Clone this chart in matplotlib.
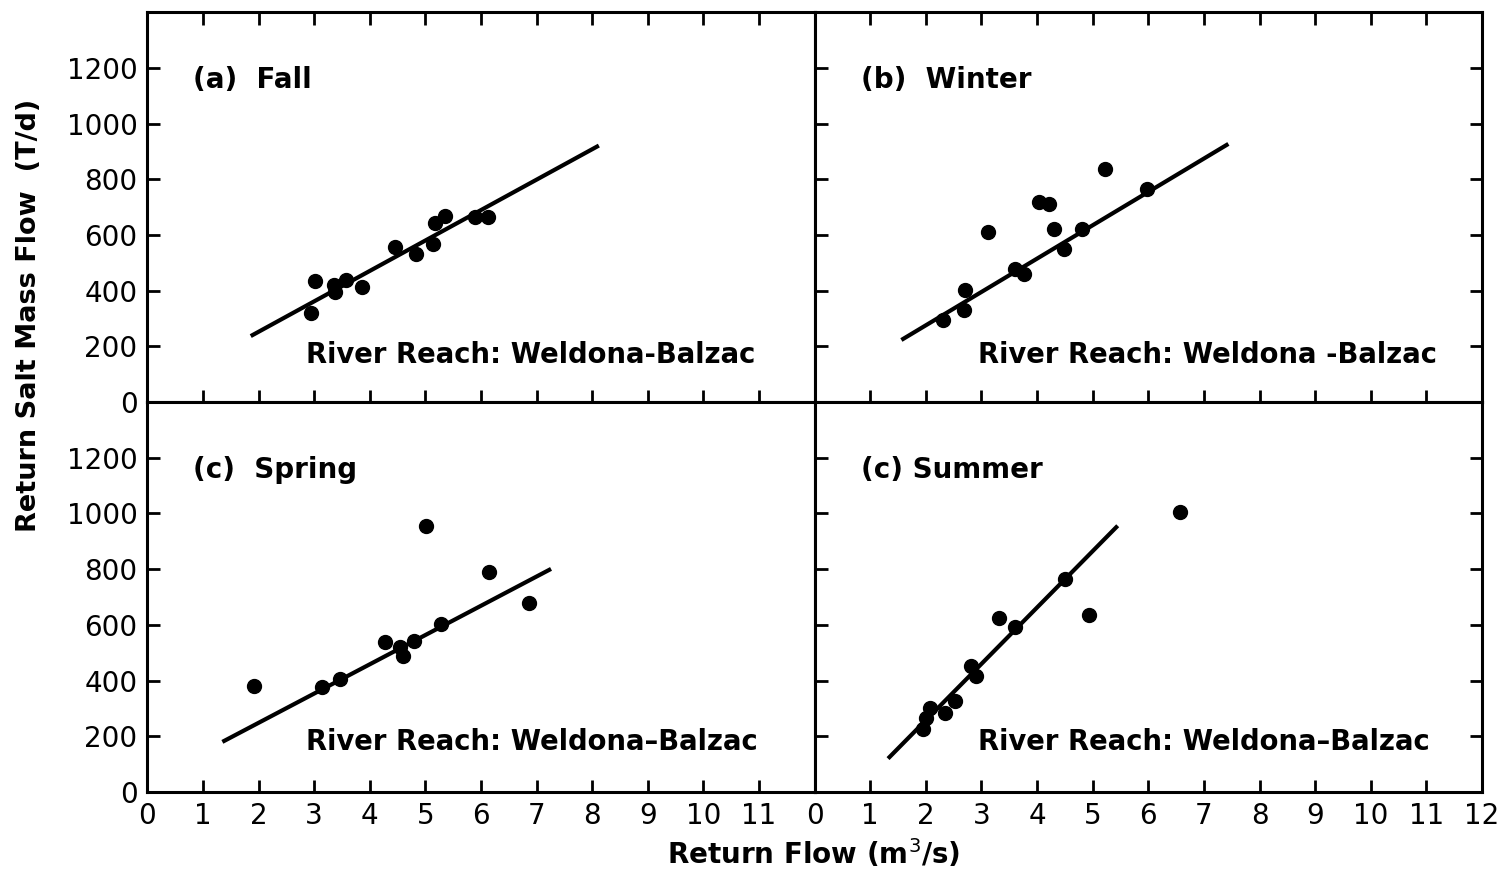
import numpy as np
import matplotlib
matplotlib.use("Agg")
from matplotlib import pyplot as plt

# return flow (m3/s) vs return salt mass flow (T/d)
fallX = [2.95, 3.02, 3.35, 3.38, 3.57, 3.86, 4.45, 4.84, 5.14, 5.17, 5.36, 5.89, 6.13]
fallY = [320, 433, 421, 394, 439, 415, 556, 532, 568, 642, 668, 663, 665]
fallLineX = [1.86, 8.12]
fallLineY = [237, 921]

winterX = [2.31, 2.69, 2.70, 3.11, 3.60, 3.77, 4.03, 4.22, 4.30, 4.49, 4.81, 5.23, 5.98]
winterY = [294, 330, 404, 612, 477, 460, 719, 713, 620, 550, 621, 836, 764]
winterLineX = [1.56, 7.44]
winterLineY = [223, 927]

springX = [1.91, 3.15, 3.47, 4.28, 4.54, 4.60, 4.80, 5.02, 5.29, 6.15, 6.87]
springY = [382, 376, 404, 539, 519, 489, 543, 956, 602, 789, 680]
springLineX = [1.35, 7.26]
springLineY = [180, 801]

summerX = [1.94, 2.00, 2.07, 2.35, 2.52, 2.81, 2.91, 3.32, 3.60, 4.51, 4.93, 6.57]
summerY = [227, 264, 302, 285, 326, 451, 415, 626, 591, 766, 636, 1004]
summerLineX = [1.32, 5.45]
summerLineY = [120, 956]

titles = ["(a)  Fall", "(b)  Winter", "(c)  Spring", "(c) Summer"]
reaches = ["River Reach: Weldona-Balzac", "River Reach: Weldona -Balzac",
           "River Reach: Weldona\u2013Balzac", "River Reach: Weldona\u2013Balzac"]

panels = [(fallX, fallY, fallLineX, fallLineY),
          (winterX, winterY, winterLineX, winterLineY),
          (springX, springY, springLineX, springLineY),
          (summerX, summerY, summerLineX, summerLineY)]

plt.rcParams["font.family"] = "DejaVu Sans"

fig, axs = plt.subplots(2, 2, figsize=(15.03, 8.69), dpi=100)
fig.subplots_adjust(left=0.098, right=0.986, bottom=0.0886, top=0.986,
                    wspace=0, hspace=0)

for i, ax in enumerate(axs.flat):
    x, y, lx, ly = panels[i]
    row, col = divmod(i, 2)
    ax.plot(lx, ly, color="black", lw=3.0, solid_capstyle="butt")
    ax.plot(x, y, "o", color="black", ms=10, mec="black")
    ax.set_xlim(0, 12)
    ax.set_ylim(0, 1400)
    ax.set_xticks(np.arange(0, 13))
    ax.set_yticks(np.arange(0, 1201, 200))
    for s in ax.spines.values():
        s.set_linewidth(2.2)
    ax.tick_params(direction="in", length=9, width=2.0, labelsize=20, pad=7,
                   top=(row == 0), right=(col == 1),
                   labelbottom=(row == 1), labelleft=(col == 0))
    if row == 1:
        if col == 0:
            ax.set_xticklabels([str(v) for v in range(12)] + [""])
        else:
            ax.set_xticklabels([str(v) for v in range(13)])
    ax.text(0.069, 0.826, titles[i], transform=ax.transAxes, fontsize=20,
            fontweight="bold", va="center", ha="left")
    xr = 0.238 if col == 0 else 0.245
    yr = 0.12 if row == 0 else 0.128
    ax.text(xr, yr, reaches[i], transform=ax.transAxes, fontsize=19.8,
            fontweight="bold", va="center", ha="left")

fig.text(0.019, 0.637, "Return Salt Mass Flow  (T/d)", rotation=90, fontsize=19.5,
         fontweight="bold", va="center", ha="center")
fig.text(0.541, 0.018, "Return Flow (m$^3$/s)", fontsize=20,
         fontweight="bold", va="center", ha="center")

plt.savefig("out.png", dpi=100)
